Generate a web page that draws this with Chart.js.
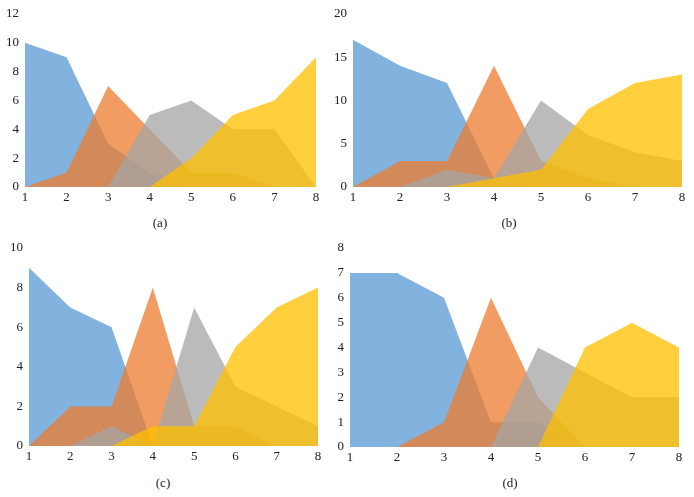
<!DOCTYPE html>
<html>
<head>
<meta charset="utf-8">
<script src="https://cdn.jsdelivr.net/npm/chart.js@4/dist/chart.umd.min.js"></script>
<style>
  body { margin: 0; background: #fff; }
  #lienzo { position: relative; width: 694px; height: 497px; }
  canvas { position: absolute; }
  .rotulo { position: absolute; font-family: 'Liberation Serif', serif; font-size: 13px; color: #222; transform: translate(-50%, -50%); }
</style>
</head>
<body>
<div id="lienzo">
  <canvas id="grafA" width="347" height="210" style="left:0;top:0"></canvas>
  <canvas id="grafB" width="374" height="210" style="left:320px;top:0"></canvas>
  <canvas id="grafC" width="347" height="239" style="left:0;top:230px"></canvas>
  <canvas id="grafD" width="374" height="239" style="left:320px;top:230px"></canvas>
  <div class="rotulo" style="left:160px;top:223px">(a)</div>
  <div class="rotulo" style="left:509px;top:223px">(b)</div>
  <div class="rotulo" style="left:163px;top:483px">(c)</div>
  <div class="rotulo" style="left:510px;top:483px">(d)</div>
</div>
<script>
const etiquetasX = ['1', '2', '3', '4', '5', '6', '7', '8'];

// (a)
const azulA = [10, 9, 3, 1, 0, 0, 0, 0];
const naranjaA = [0, 1, 7, 4, 1, 1, 0, 0];
const grisA = [0, 0, 0, 5, 6, 4, 4, 0];
const amarilloA = [0, 0, 0, 0, 2, 5, 6, 9];

// (b)
const azulB = [17, 14, 12, 1, 0, 0, 0, 0];
const naranjaB = [0, 3, 3, 14, 3, 1, 0, 0];
const grisB = [0, 0, 2, 1, 10, 6, 4, 3];
const amarilloB = [0, 0, 0, 1, 2, 9, 12, 13];

// (c)
const azulC = [9, 7, 6, 0, 0, 0, 0, 0];
const naranjaC = [0, 2, 2, 8, 1, 1, 0, 0];
const grisC = [0, 0, 1, 0, 7, 3, 2, 1];
const amarilloC = [0, 0, 0, 1, 1, 5, 7, 8];

// (d)
const azulD = [7, 7, 6, 1, 1, 0, 0, 0];
const naranjaD = [0, 0, 1, 6, 2, 0, 0, 0];
const grisD = [0, 0, 0, 0, 4, 3, 2, 2];
const amarilloD = [0, 0, 0, 0, 0, 4, 5, 4];

const colores = [
  'rgba(91, 155, 213, 0.76)',
  'rgba(237, 125, 49, 0.76)',
  'rgba(165, 165, 165, 0.76)',
  'rgba(255, 192, 0, 0.76)',
];

const fuente = { family: "'Liberation Serif', serif", size: 13 };

const crearGrafico = (id, series, maxY, paso, caja) => {
  const ctx = document.getElementById(id).getContext('2d');
  const datasets = series.map((datos, i) => ({
    data: datos,
    backgroundColor: colores[i],
    borderWidth: 0,
    pointRadius: 0,
    fill: 'origin',
    tension: 0,
    order: 4 - i,  // el amarillo queda encima
  }));

  new Chart(ctx, {
    type: 'line',
    data: { labels: etiquetasX, datasets },
    options: {
      responsive: false,
      animation: false,
      layout: { padding: { top: caja.arriba, right: caja.derecha, left: 0, bottom: 0 } },
      plugins: { legend: { display: false }, tooltip: { enabled: false } },
      scales: {
        x: {
          offset: false,
          grid: { display: false, drawTicks: false },
          border: { display: false },
          ticks: { color: '#222', font: fuente, padding: 3, maxRotation: 0 },
          afterFit: (escala) => { escala.height = caja.abajo; },
        },
        y: {
          min: 0,
          max: maxY,
          grid: { display: false, drawTicks: false },
          border: { display: false },
          ticks: { color: '#222', font: fuente, padding: 6, stepSize: paso },
          afterFit: (escala) => { escala.width = caja.izquierda; },
        },
      },
    },
  });
};

crearGrafico('grafA', [azulA, naranjaA, grisA, amarilloA], 12, 2, { izquierda: 25, derecha: 31, arriba: 14, abajo: 23 });
crearGrafico('grafB', [azulB, naranjaB, grisB, amarilloB], 20, 5, { izquierda: 33, derecha: 12, arriba: 13, abajo: 23 });
crearGrafico('grafC', [azulC, naranjaC, grisC, amarilloC], 10, 2, { izquierda: 29, derecha: 29, arriba: 18, abajo: 23 });
crearGrafico('grafD', [azulD, naranjaD, grisD, amarilloD], 8, 1, { izquierda: 30, derecha: 15, arriba: 18, abajo: 22 });
</script>
</body>
</html>
